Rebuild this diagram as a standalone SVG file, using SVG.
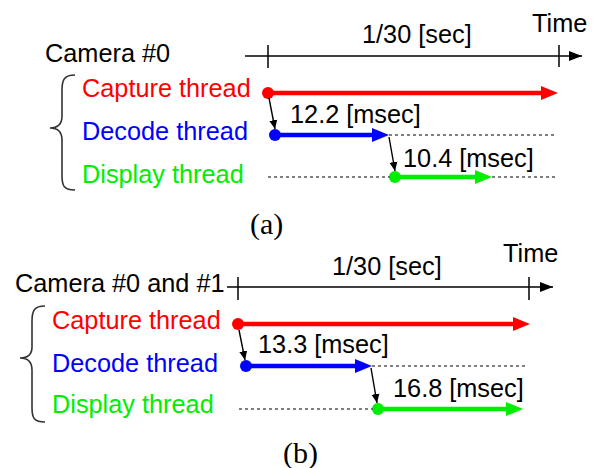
<svg xmlns="http://www.w3.org/2000/svg" width="597" height="468" viewBox="0 0 597 468">
<style>
.t{font-family:"Liberation Sans",Arial,sans-serif;font-size:25.3px;fill:#000}
.cap{fill:#ff0000}.dec{fill:#0000ff}.dis{fill:#00ee00}
.s{font-family:"Liberation Serif","Times New Roman",serif;font-size:30px;fill:#000}
.ax{stroke:#000;stroke-width:1.5;fill:none}
.dot{stroke:#555;stroke-width:1.5;stroke-dasharray:3 3;fill:none}
.br{stroke:#333;stroke-width:1.6;fill:none}
.thin{stroke:#000;stroke-width:1.4;fill:none;marker-end:url(#ah)}
.red{stroke:#ff0000;stroke-width:4.5}
.blue{stroke:#0000ff;stroke-width:4.5}
.green{stroke:#00ee00;stroke-width:4.5}
</style>
<defs>
<marker id="ah" markerWidth="10" markerHeight="10" refX="9" refY="5" orient="auto" markerUnits="userSpaceOnUse">
<path d="M0,1 L9,5 L0,9 z" fill="#000"/>
</marker>
<marker id="ax" markerWidth="14" markerHeight="12" refX="13" refY="6" orient="auto" markerUnits="userSpaceOnUse">
<path d="M0,1 L13,6 L0,11 z" fill="#000"/>
</marker>
</defs>

<!-- Panel (a) -->
<g id="a-axis">
<line class="ax" x1="245" y1="56" x2="582" y2="56" marker-end="url(#ax)"/>
<line class="ax" x1="268" y1="45" x2="268" y2="68"/>
<line class="ax" x1="559" y1="45" x2="559" y2="67"/>
<text class="t" x="362" y="43">1/30 [sec]</text>
<text class="t" x="532" y="32">Time</text>
</g>
<g id="a-labels">
<text class="t" x="45" y="62">Camera #0</text>
<path class="br" d="M75,75 C64,75 62,80 62,90 L62,116 C62,124 58,128 50,128 C58,128 62,132 62,140 L62,176 C62,186 64,190 75,190"/>
<text class="t cap" x="82" y="97">Capture thread</text>
<text class="t dec" x="82" y="140">Decode thread</text>
<text class="t dis" x="82" y="183">Display thread</text>
</g>
<g id="a-capture">
<circle cx="268" cy="93" r="6" fill="#ff0000"/>
<line class="red" x1="268" y1="93" x2="543" y2="93"/>
<polygon points="541,86 558,93 541,100" fill="#ff0000"/>
</g>
<g id="a-decode">
<circle cx="275" cy="135" r="6" fill="#0000ff"/>
<line class="blue" x1="275" y1="135" x2="374" y2="135"/>
<polygon points="372,128 389,135 372,142" fill="#0000ff"/>
<text class="t" x="290" y="123">12.2 [msec]</text>
</g>
<g id="a-display">
<circle cx="395" cy="177" r="6" fill="#00ee00"/>
<line class="green" x1="395" y1="177" x2="477" y2="177"/>
<polygon points="475,170 492,177 475,184" fill="#00ee00"/>
<text class="t" x="403" y="167">10.4 [msec]</text>
</g>
<g id="a-connectors">
<line class="dot" x1="389" y1="135" x2="557" y2="135"/>
<line class="dot" x1="268" y1="177" x2="390" y2="177"/>
<line class="dot" x1="492" y1="177" x2="557" y2="177"/>
<line class="thin" x1="269" y1="98" x2="275" y2="129"/>
<line class="thin" x1="389" y1="137" x2="395" y2="171"/>
</g>
<text class="s" x="250" y="234">(a)</text>

<!-- Panel (b) -->
<g id="b-axis">
<line class="ax" x1="227" y1="287" x2="553" y2="287" marker-end="url(#ax)"/>
<line class="ax" x1="238" y1="277" x2="238" y2="300"/>
<line class="ax" x1="529" y1="277" x2="529" y2="300"/>
<text class="t" x="332" y="275">1/30 [sec]</text>
<text class="t" x="503" y="262">Time</text>
</g>
<g id="b-labels">
<text class="t" x="15" y="292">Camera #0 and #1</text>
<path class="br" d="M45,306 C34,306 32,311 32,321 L32,347 C32,355 28,358 20,358 C28,358 32,362 32,370 L32,408 C32,418 34,422 45,422"/>
<text class="t cap" x="52" y="329">Capture thread</text>
<text class="t dec" x="52" y="372">Decode thread</text>
<text class="t dis" x="52" y="413">Display thread</text>
</g>
<g id="b-capture">
<circle cx="238" cy="324" r="6" fill="#ff0000"/>
<line class="red" x1="238" y1="324" x2="515" y2="324"/>
<polygon points="513,317 530,324 513,331" fill="#ff0000"/>
</g>
<g id="b-decode">
<circle cx="246" cy="366" r="6" fill="#0000ff"/>
<line class="blue" x1="246" y1="366" x2="357" y2="366"/>
<polygon points="355,359 372,366 355,373" fill="#0000ff"/>
<text class="t" x="258" y="353">13.3 [msec]</text>
</g>
<g id="b-display">
<circle cx="378" cy="409" r="6" fill="#00ee00"/>
<line class="green" x1="378" y1="409" x2="508" y2="409"/>
<polygon points="506,402 523,409 506,416" fill="#00ee00"/>
<text class="t" x="393" y="397">16.8 [msec]</text>
</g>
<g id="b-connectors">
<line class="dot" x1="372" y1="366" x2="527" y2="366"/>
<line class="dot" x1="239" y1="409" x2="373" y2="409"/>
<line class="thin" x1="239" y1="330" x2="245" y2="360"/>
<line class="thin" x1="371" y1="368" x2="377" y2="403"/>
</g>
<text class="s" x="283" y="463">(b)</text>
</svg>
